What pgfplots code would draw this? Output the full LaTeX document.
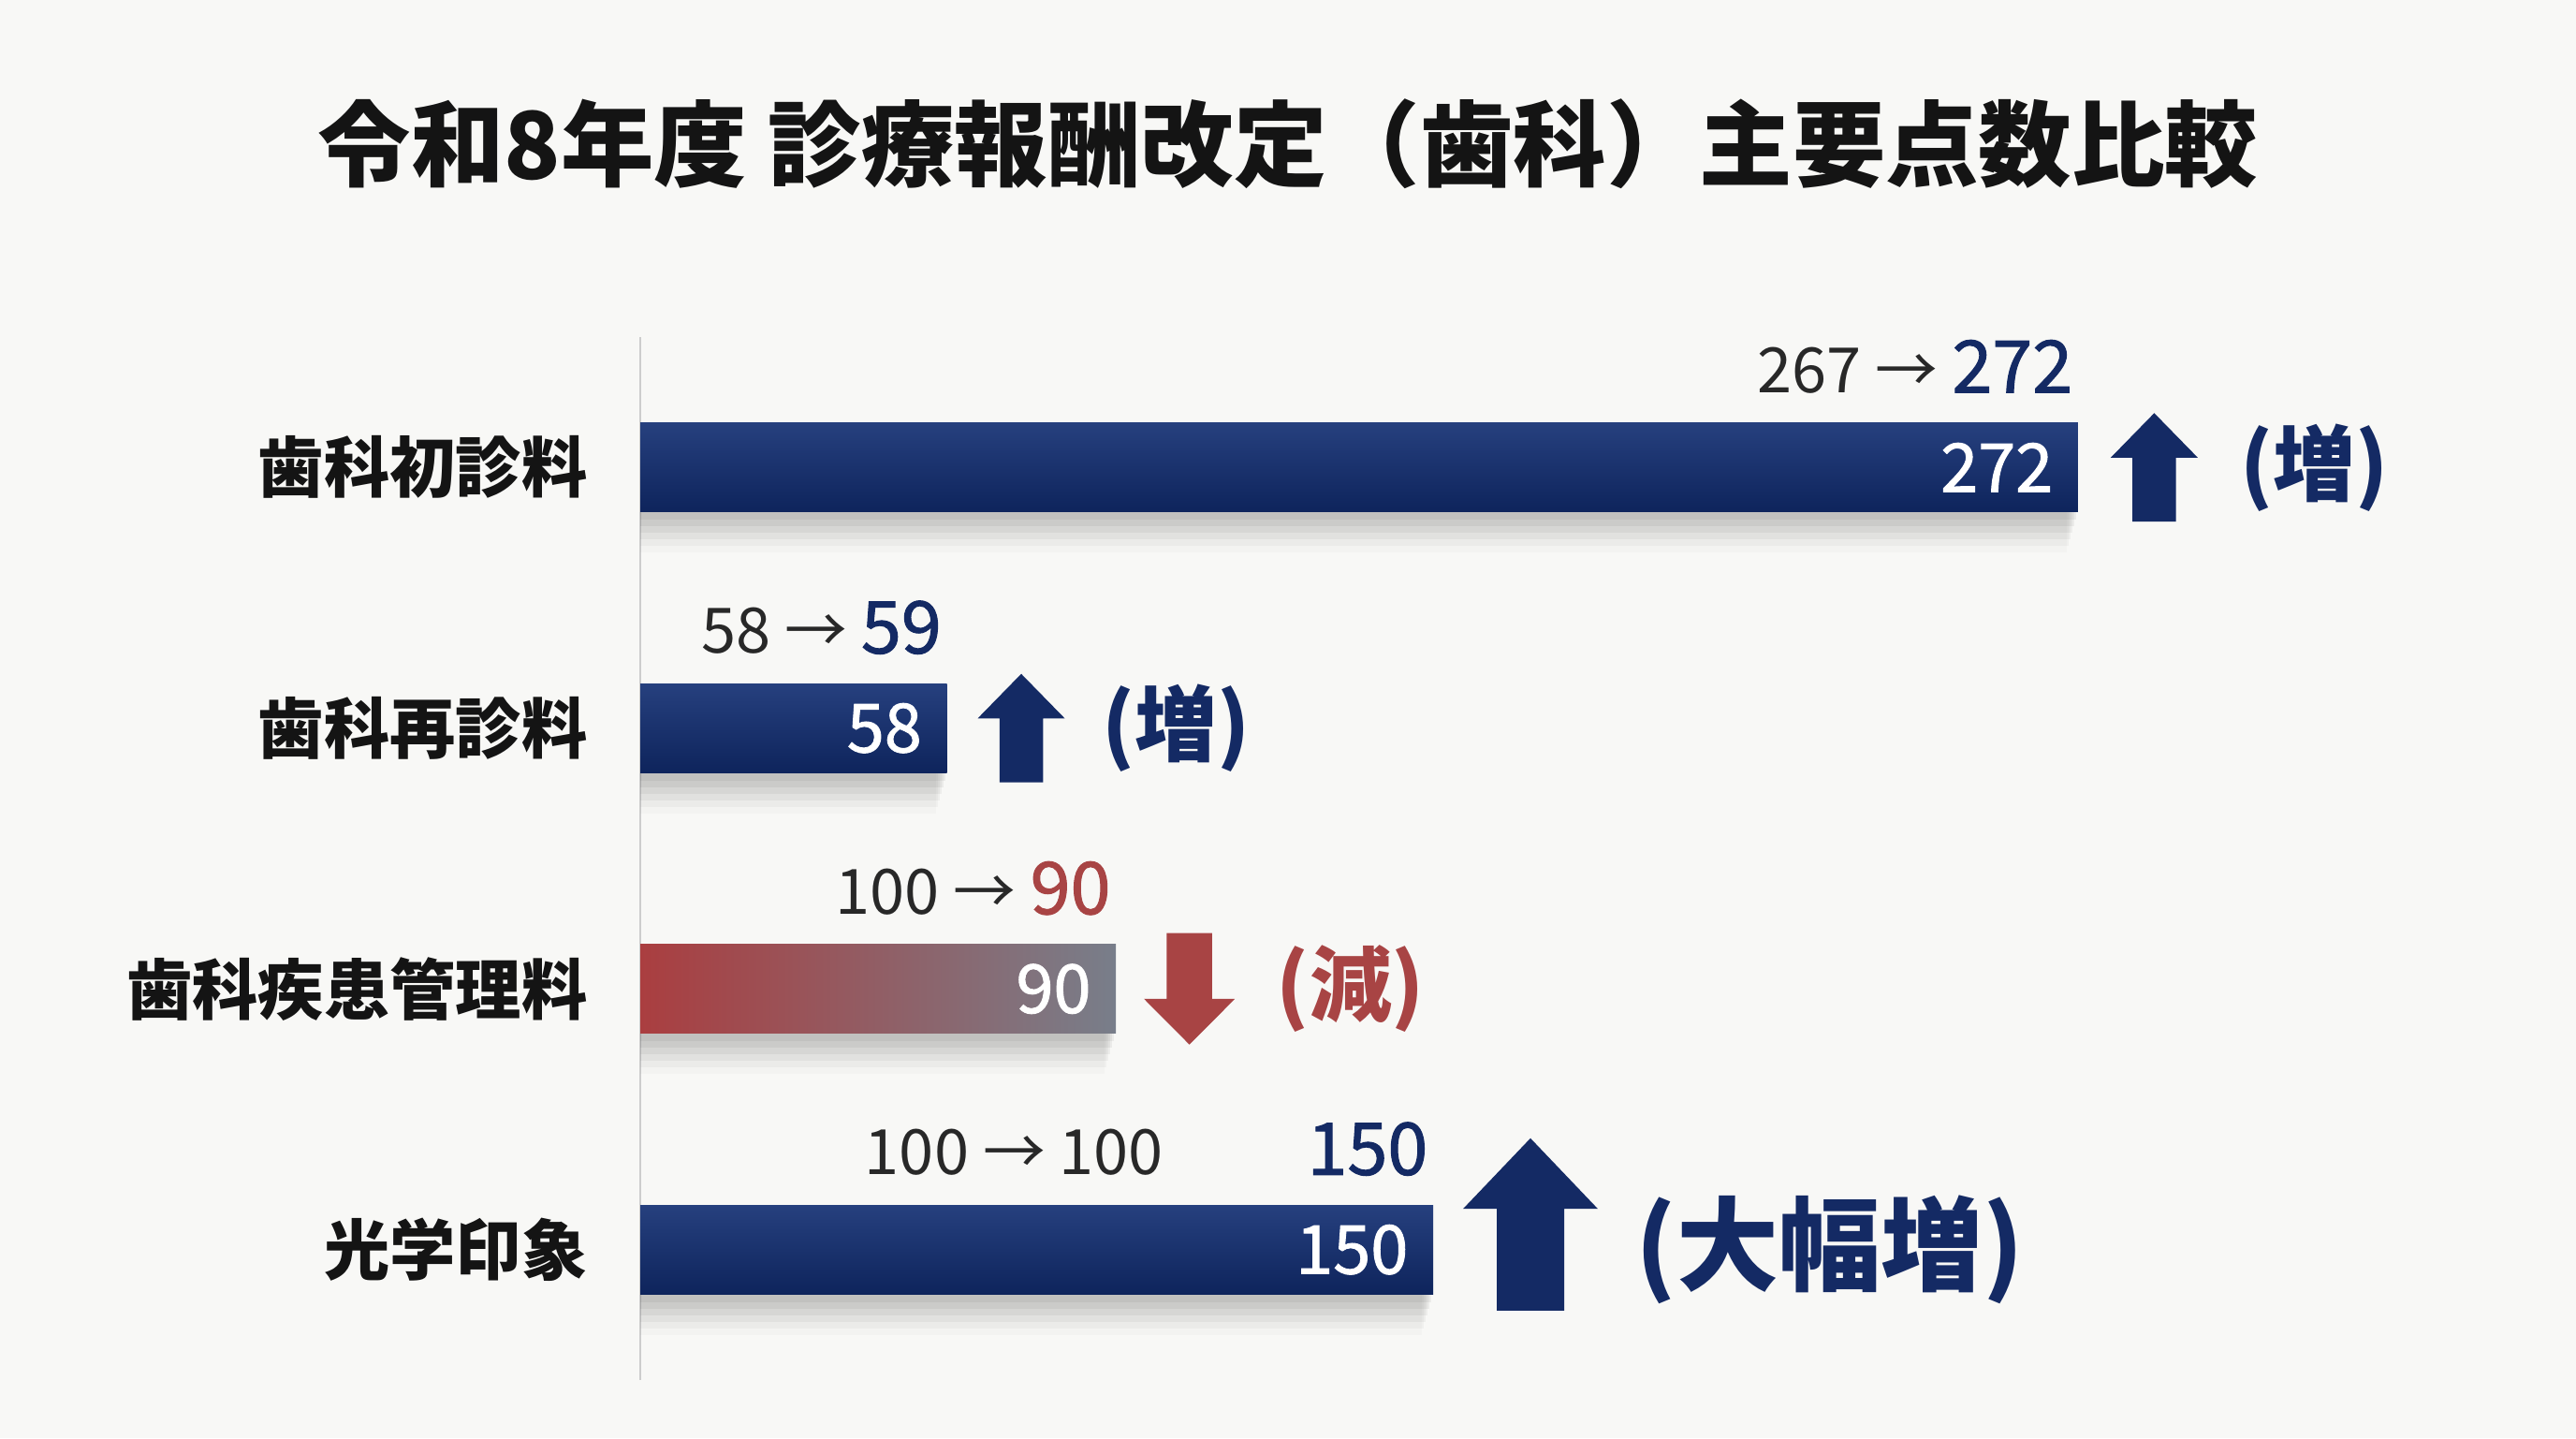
\documentclass[border=0pt]{standalone}
\usepackage{pgfplots}
\pgfplotsset{compat=1.18}
\usepackage{fontspec}
\setmainfont{Noto Sans CJK JP}
\newfontfamily\med{Noto Sans CJK JP}[FakeBold=1.3]
\definecolor{bgcol}{RGB}{248,248,246}
\definecolor{navy}{RGB}{20,42,100}
\definecolor{navytop}{RGB}{38,64,126}
\definecolor{navybot}{RGB}{14,36,92}
\definecolor{redt}{RGB}{168,68,68}
\definecolor{redl}{RGB}{170,62,64}
\definecolor{redr}{RGB}{120,126,138}
\definecolor{txtgray}{RGB}{40,40,40}
\definecolor{axisgray}{RGB}{205,205,205}
\newcommand{\fs}[1]{\fontsize{#1}{#1}\selectfont}
% soft shadow under a bar: value, category
\newcommand{\Shadow}[2]{%
 \fill[black, opacity=0.05] ([yshift=-0.2cm]axis cs:0,#2) rectangle ([xshift=-0.02cm, yshift=-0.56cm]axis cs:#1,#2);
 \fill[black, opacity=0.05] ([yshift=-0.2cm]axis cs:0,#2) rectangle ([xshift=-0.04cm, yshift=-0.63cm]axis cs:#1,#2);
 \fill[black, opacity=0.045] ([yshift=-0.2cm]axis cs:0,#2) rectangle ([xshift=-0.06cm, yshift=-0.70cm]axis cs:#1,#2);
 \fill[black, opacity=0.04] ([yshift=-0.2cm]axis cs:0,#2) rectangle ([xshift=-0.08cm, yshift=-0.77cm]axis cs:#1,#2);
 \fill[black, opacity=0.03] ([yshift=-0.2cm]axis cs:0,#2) rectangle ([xshift=-0.10cm, yshift=-0.84cm]axis cs:#1,#2);
 \fill[black, opacity=0.02] ([yshift=-0.2cm]axis cs:0,#2) rectangle ([xshift=-0.12cm, yshift=-0.91cm]axis cs:#1,#2);
}
% color, coordinate, dx, W, H, dy
\newcommand{\UpArr}[6]{%
 \begin{scope}[shift={(#2)}]\begin{scope}[shift={({#3},{#6-#5/2})}]
 \fill[#1] ({0.25*#4},0) -- ({0.75*#4},0) -- ({0.75*#4},{0.59*#5}) -- ({#4},{0.59*#5}) -- ({0.5*#4},{#5}) -- (0,{0.59*#5}) -- ({0.25*#4},{0.59*#5}) -- cycle;
 \end{scope}\end{scope}}
\newcommand{\DownArr}[6]{%
 \begin{scope}[shift={(#2)}]\begin{scope}[shift={({#3},{#6-#5/2})}]
 \fill[#1] ({0.25*#4},{#5}) -- ({0.75*#4},{#5}) -- ({0.75*#4},{0.41*#5}) -- ({#4},{0.41*#5}) -- ({0.5*#4},0) -- (0,{0.41*#5}) -- ({0.25*#4},{0.41*#5}) -- cycle;
 \end{scope}\end{scope}}
\begin{document}
\begin{tikzpicture}[x=1cm,y=1cm]
\fill[bgcol] (0,0) rectangle (27.52,15.36);
\node[font=\fs{28.3}\bfseries, text=black!92] at (13.76,13.82) {令和8年度 診療報酬改定（歯科）主要点数比較};
\begin{axis}[
  at={(6.84cm,0.62cm)}, anchor=south west,
  scale only axis, width=16.94cm, height=11.14cm,
  xmin=0, xmax=300, ymin=-0.5, ymax=3.5, y dir=reverse,
  axis x line=none, axis y line=left,
  y axis line style={-, draw=axisgray, line width=0.8pt},
  ytick={0,1,2,3},
  yticklabels={歯科初診料,歯科再診料,歯科疾患管理料,光学印象},
  yticklabel style={font=\fs{20}\bfseries, text=black!92, anchor=east, inner sep=0pt, xshift=-0.56cm},
  major tick length=0pt,
  xbar, bar width=0.95cm,
  point meta=x,
  /pgf/number format/assume math mode=true,
  nodes near coords,
  every node near coord/.append style={anchor=east, xshift=-0.26cm, text=white, font=\fs{20.5}\med, inner sep=0pt},
  clip=false,
]
\Shadow{272}{0}
\Shadow{58}{1}
\Shadow{90}{2}
\Shadow{150}{3}
\addplot[draw=none, top color=navytop, bottom color=navybot, bar shift=0pt] coordinates {(272,0)};
\addplot[draw=none, top color=navytop, bottom color=navybot, bar shift=0pt] coordinates {(58,1)};
\addplot[draw=none, left color=redl, right color=redr, bar shift=0pt] coordinates {(90,2)};
\addplot[draw=none, top color=navytop, bottom color=navybot, bar shift=0pt] coordinates {(150,3)};
\node[anchor=base east, inner sep=0pt, xshift=-0.05cm, yshift=0.8cm] at (axis cs:272,0) {{\fs{19}\color{txtgray}267 → }{\fs{22}\med\color{navy}272}};
\node[anchor=base east, inner sep=0pt, xshift=-0.05cm, yshift=0.8cm] at (axis cs:58,1) {{\fs{19}\color{txtgray}58 → }{\fs{22}\med\color{navy}59}};
\node[anchor=base east, inner sep=0pt, xshift=-0.05cm, yshift=0.8cm] at (axis cs:90,2) {{\fs{19}\color{txtgray}100 → }{\fs{22}\med\color{redt}90}};
\node[anchor=base east, inner sep=0pt, xshift=-0.05cm, yshift=0.8cm] at (axis cs:100,3) {{\fs{19}\color{txtgray}100 → 100}};
\node[anchor=base east, inner sep=0pt, xshift=-0.05cm, yshift=0.8cm] at (axis cs:150,3) {{\fs{22}\med\color{navy}150}};
\coordinate (e1) at (axis cs:272,0);
\coordinate (e2) at (axis cs:58,1);
\coordinate (e3) at (axis cs:90,2);
\coordinate (e4) at (axis cs:150,3);
\end{axis}
\UpArr{navy}{e1}{0.35}{0.93}{1.16}{0}
\UpArr{navy}{e2}{0.33}{0.93}{1.16}{0}
\DownArr{redt}{e3}{0.30}{0.97}{1.19}{0}
\UpArr{navy}{e4}{0.32}{1.44}{1.84}{0.27}
\node[anchor=west, inner sep=0pt, text=navy, font=\fs{25}\bfseries] at ([xshift=1.73cm]e1) {(増)};
\node[anchor=west, inner sep=0pt, text=navy, font=\fs{25}\bfseries] at ([xshift=1.65cm]e2) {(増)};
\node[anchor=west, inner sep=0pt, text=redt, font=\fs{25}\bfseries] at ([xshift=1.71cm]e3) {(減)};
\node[anchor=west, inner sep=0pt, text=navy, font=\fs{31}\bfseries] at ([xshift=2.16cm]e4) {(大幅増)};
\end{tikzpicture}
\end{document}
